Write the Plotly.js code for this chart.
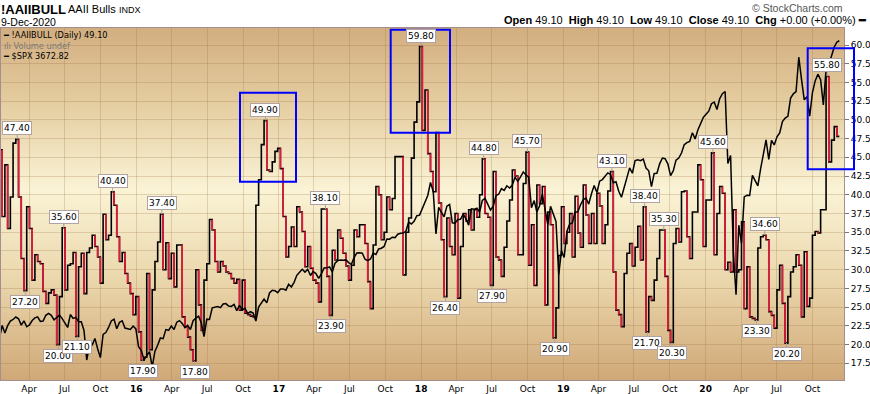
<!DOCTYPE html>
<html>
<head>
<meta charset="utf-8">
<script src="https://cdn.plot.ly/plotly-3.0.1.min.js"></script>
<style>
html,body{margin:0;padding:0;background:#fff;}
#chart{width:870px;height:394px;}
</style>
</head>
<body>
<div id="chart"></div>
<script>
// ---------------- DATA ----------------
// AAII bullish % (weekly survey, first reading Thursday 2015-01-15)
const surveyStart = '2015-01-15';
const lastDate = '2020-12-09';
const bulls2015 = [46.0,37.1,44.0,35.5,39.7,46.9,47.4,39.7,31.5,27.2,
  38.4,35.5,28.6,32.0,31.1,30.8,27.1,25.5,26.9,27.3,
  26.6,20.0,26.4,35.6,27.3,30.6,30.8,32.3,21.1,30.4,
  32.2,26.8,32.3,32.9,34.6,33.1,31.7,28.2,37.4,34.0,
  34.6,40.4,38.6,34.4,31.1,32.3,29.5,28.2,26.8,24.0,
  26.4];
const bulls2016 = [21.7,17.9,18.3,29.5,19.3,27.3,31.1,33.7,37.4,30.0,
  33.6,28.8,32.2,27.7,33.3,33.3,23.7,22.4,21.0,19.3,
  17.8,30.0,25.3,21.9,28.6,30.8,36.7,35.3,31.1,29.7,
  31.1,30.5,29.7,29.5,28.8,28.2,28.7,24.6,28.6,24.2,
  24.0,23.8,23.7,38.6,42.0,46.7,49.9,43.3,43.1,44.4,
  45.8,46.2];
const bulls2017 = [43.5,37.1,31.7,33.1,35.7,33.1,38.4,37.7,35.1,30.4,
  33.1,30.2,28.6,28.2,25.7,38.1,38.1,29.1,23.9,32.6,
  31.3,35.3,34.2,32.2,30.5,28.6,30.6,35.3,34.4,36.0,
  36.0,33.5,28.4,24.8,33.3,41.1,40.0,34.0,35.0,39.7,
  38.0,39.5,45.1,45.1,45.1,29.3,35.0,36.9,44.9,49.7,
  52.4,59.8];
const bulls2018 = [48.6,54.0,45.5,43.1,40.4,48.3,38.9,34.0,26.4,36.9,
  33.1,32.0,37.5,26.2,33.1,37.5,36.5,38.0,35.3,38.0,
  37.0,40.0,44.8,37.5,37.0,27.9,43.1,31.7,31.3,29.1,
  33.0,36.5,39.3,43.3,42.5,32.0,32.0,41.5,45.7,30.6,
  36.0,27.9,41.3,38.8,41.1,25.3,37.7,36.0,20.9,24.9,
  31.9,38.4];
const bulls2019 = [33.5,35.0,37.5,31.7,39.8,34.9,33.0,41.3,37.3,33.5,
  37.5,33.5,40.2,38.5,33.5,36.0,40.5,43.1,29.7,24.6,
  24.0,22.4,29.5,32.2,33.5,30.5,33.0,35.8,31.3,38.4,
  21.7,26.4,25.9,28.6,31.5,35.3,35.3,29.1,21.9,20.3,
  33.5,35.5,33.7,40.4,40.5,34.4,31.5,37.7,37.7,44.0,
  42.0,33.1];
const bulls2020 = [39.3,39.3,45.6,32.0,37.5,41.1,40.2,30.0,31.0,29.7,
  38.0,29.7,30.0,36.4,24.8,30.4,23.7,23.5,23.3,32.9,
  34.4,34.6,34.0,24.4,23.9,22.2,27.3,30.6,25.5,20.2,
  26.4,29.7,30.4,32.0,30.6,23.7,32.4,25.1,26.2,34.6,
  35.1,34.9,38.0,38.0,55.8,44.4,47.3,49.1,47.8];

// S&P 500 ($SPX) on the same weekly dates
const spx2015 = [1992,2063,2021,2062,2088,2097,2111,2101,2065,2089,
  2056,2066,2091,2106,2112,2086,2088,2121,2131,2121,
  2095,2108,2122,2102,2077,2052,2125,2103,2109,2084,
  2084,2035,1868,1951,1952,1990,1932,1882,2013,2023,
  2052,2089,2099,2045,2081,2090,2049,2047,2041,2060,
  2044];
const spx2016 = [1943,1921,1869,1893,1915,1829,1918,1951,1993,1989,
  2040,2036,2060,2041,2082,2091,2075,2051,2064,2040,
  2090,2105,2116,2077,2000,2099,2097,2163,2165,2170,
  2164,2185,2187,2173,2171,2182,2147,2177,2151,2160,
  2132,2141,2133,2088,2167,2187,2213,2191,2247,2262,
  2260,2249];
const spx2017 = [2269,2270,2263,2296,2281,2307,2347,2364,2381,2365,
  2381,2346,2368,2357,2329,2355,2388,2389,2394,2366,
  2415,2430,2434,2432,2434,2419,2409,2447,2473,2475,
  2472,2438,2430,2439,2472,2465,2496,2500,2510,2552,
  2551,2562,2560,2579,2585,2586,2597,2648,2637,2652,
  2684,2687];
const spx2018 = [2724,2767,2798,2872,2822,2581,2731,2703,2678,2738,
  2747,2644,2641,2662,2663,2693,2666,2630,2723,2720,
  2727,2705,2770,2782,2749,2716,2737,2798,2805,2837,
  2827,2853,2840,2857,2901,2878,2904,2931,2914,2902,
  2729,2769,2705,2740,2806,2730,2633,2737,2696,2651,
  2351,2485];
const spx2019 = [2448,2596,2636,2643,2704,2706,2746,2775,2784,2749,
  2808,2854,2815,2879,2888,2905,2926,2917,2870,2876,
  2822,2788,2843,2891,2954,2924,2996,3000,2995,3004,
  2953,2938,2848,2923,2924,2977,3010,3006,2977,2910,
  2938,2998,3010,3038,3085,3097,3104,3153,3118,3168,
  3205,3240];
const spx2020 = [3258,3275,3317,3326,3284,3345,3374,3386,2979,3024,
  2481,2237,2630,2527,2790,2800,2798,2912,2882,2852,
  2949,3030,3112,3002,3110,3084,3130,3152,3216,3236,
  3246,3349,3373,3385,3580,3455,3339,3357,3247,3380,
  3446,3484,3453,3310,3510,3537,3582,3638,3666];
const spxClose = 3672.82;
const aaiiClose = 49.10;

// Labelled extremes: week index and side
const extremeWeeks = [6,9,21,23,28,41,52,59,71,97,119,121,154,163,177,180,193,203,224,236,237,243,246,261,277,280,288,303];
const extremeSide  = ['up','dn','dn','up','dn','up','dn','up','dn','up','up','dn','up','dn','up','dn','up','dn','up','up','dn','up','dn','up','dn','up','dn','up'];

// Axis ticks
const quarterTicks = ['2015-04-01','2015-07-01','2015-10-01',
  '2016-01-01','2016-04-01','2016-07-01','2016-10-01',
  '2017-01-01','2017-04-01','2017-07-01','2017-10-01',
  '2018-01-01','2018-04-01','2018-07-01','2018-10-01',
  '2019-01-01','2019-04-01','2019-07-01','2019-10-01',
  '2020-01-01','2020-04-01','2020-07-01','2020-10-01'];
const quarterLabels = ['Apr','Jul','Oct',
  '<b>16</b>','Apr','Jul','Oct',
  '<b>17</b>','Apr','Jul','Oct',
  '<b>18</b>','Apr','Jul','Oct',
  '<b>19</b>','Apr','Jul','Oct',
  '<b>20</b>','Apr','Jul','Oct'];
const yTicks = [17.5,20,22.5,25,27.5,30,32.5,35,37.5,40,42.5,45,47.5,50,52.5,55,57.5,60];

// ---------------- BUILD ----------------
const bulls = [].concat(bulls2015,bulls2016,bulls2017,bulls2018,bulls2019,bulls2020);
const spx = [].concat(spx2015,spx2016,spx2017,spx2018,spx2019,spx2020);
const DAY = 864e5;
const t0 = Date.parse(surveyStart + 'T00:00:00Z');
function iso(ms){ return new Date(ms).toISOString().slice(0,19).replace('T',' '); }
const weekDates = bulls.map((_,k)=>iso(t0 + k*7*DAY));

// black step line
const bx = weekDates.concat([lastDate]);
const by = bulls.concat([bulls[bulls.length-1]]);
// red down-moves
const rx = [], ry = [];
for (let i=1;i<bulls.length;i++){
  if (bulls[i] < bulls[i-1]) {
    rx.push(weekDates[i], weekDates[i], null);
    ry.push(bulls[i-1], bulls[i], null);
  }
}
const sx = weekDates.concat([lastDate]);
const sy = spx.concat([spxClose]);

const traces = [
  {x:bx, y:by, type:'scatter', mode:'lines', line:{color:'#000', width:1.6, shape:'hv'}, hoverinfo:'skip'},
  {x:rx, y:ry, type:'scatter', mode:'lines', line:{color:'#e8173a', width:1.6}, connectgaps:false, hoverinfo:'skip'},
  {x:sx, y:sy, type:'scatter', mode:'lines', yaxis:'y2', line:{color:'#000', width:1.5}, hoverinfo:'skip'}
];

// layout helpers (pixel -> paper)
const L = 1, R = 844, T = 28, B = 380;
const px = p => (p - L) / (R - L);
const py = p => (B - p) / (B - T);

const annotations = [];
const lblColor = '#b3a2a2';
extremeWeeks.forEach((k,j)=>{
  const up = extremeSide[j] === 'up';
  annotations.push({
    x: iso(t0 + (k*7 + 3.5)*DAY), y: bulls[k], xref:'x', yref:'y',
    text: bulls[k].toFixed(2),
    font:{family:'DejaVu Sans', size:9, color:'#000'},
    bgcolor:'#ffffff', bordercolor:lblColor, borderwidth:1, borderpad:1,
    showarrow:true, arrowhead:0, arrowwidth:1, arrowcolor:lblColor,
    ax:0, ay: up ? -11 : 11, standoff:0
  });
});

const nb = '\u00a0';
annotations.push(
  {xref:'paper',yref:'paper',x:px(-1),y:py(9),xanchor:'left',yanchor:'middle',showarrow:false,
   text:'<b>!AAIIBULL</b>',font:{family:'Liberation Sans, Arial',size:13,color:'#000'}},
  {xref:'paper',yref:'paper',x:px(66),y:py(9),xanchor:'left',yanchor:'middle',showarrow:false,
   text:'AAII Bulls',font:{family:'Liberation Sans, Arial',size:11,color:'#000'}},
  {xref:'paper',yref:'paper',x:px(117),y:py(9.5),xanchor:'left',yanchor:'middle',showarrow:false,
   text:'INDX',font:{family:'Liberation Sans, Arial',size:9,color:'#000'}},
  {xref:'paper',yref:'paper',x:px(-1),y:py(22),xanchor:'left',yanchor:'middle',showarrow:false,
   text:'9-Dec-2020',font:{family:'Liberation Sans, Arial',size:10.5,color:'#000'}},
  {xref:'paper',yref:'paper',x:px(845),y:py(8),xanchor:'right',yanchor:'middle',showarrow:false,
   text:'\u00a9 StockCharts.com',font:{family:'Liberation Sans, Arial',size:10.5,color:'#555'}},
  {xref:'paper',yref:'paper',x:px(868),y:py(20),xanchor:'right',yanchor:'middle',showarrow:false,
   text:'<b>Open</b> '+aaiiClose.toFixed(2)+nb+nb+'<b>High</b> '+aaiiClose.toFixed(2)+nb+nb+'<b>Low</b> '+aaiiClose.toFixed(2)+nb+nb+'<b>Close</b> '+aaiiClose.toFixed(2)+nb+nb+'<b>Chg</b> +0.00 (+0.00%) <b>\u2501</b>',
   font:{family:'Liberation Sans, Arial',size:11,color:'#000'}},
  {xref:'paper',yref:'paper',x:px(2),y:py(29),xanchor:'left',yanchor:'top',align:'left',showarrow:false,
   borderpad:0,
   text:'<b>\u2501</b> !AAIIBULL (Daily) '+aaiiClose.toFixed(2)+
        '<br><span style="color:#7a7a7a">\u0131l\u0131 Volume undef</span>'+
        '<br><b>\u2501</b> $SPX '+spxClose.toFixed(2),
   font:{family:'DejaVu Sans',size:8.2,color:'#000'}}
);

const blue = {color:'#0000ff', width:2};
const shapes = [
  {type:'rect',xref:'paper',yref:'paper',x0:px(240),x1:px(296),y0:py(181.7),y1:py(92.7),line:blue,layer:'above'},
  {type:'rect',xref:'paper',yref:'paper',x0:px(390.7),x1:px(450),y0:py(132.7),y1:py(29.7),line:blue,layer:'above'},
  {type:'rect',xref:'paper',yref:'paper',x0:px(807.7),x1:px(854),y0:py(169.3),y1:py(48.3),line:blue,layer:'above'}
];

const svgBg = "<svg xmlns='http://www.w3.org/2000/svg' width='100' height='100' preserveAspectRatio='none'>" +
  "<defs><linearGradient id='g' x1='0' y1='0' x2='0' y2='1'>" +
  "<stop offset='0' stop-color='#d2ae80'/>" +
  "<stop offset='0.2' stop-color='#e3cb9e'/>" +
  "<stop offset='0.46' stop-color='#faf3d5'/>" +
  "<stop offset='0.72' stop-color='#ead6ab'/>" +
  "<stop offset='1' stop-color='#d0a877'/>" +
  "</linearGradient></defs><rect width='100' height='100' fill='url(#g)'/></svg>";

const gridColor = 'rgba(150,105,55,0.24)';
const frameColor = '#a48f8f';

const layout = {
  width:870, height:394,
  margin:{l:L, r:870-R, t:T, b:394-B, pad:0},
  paper_bgcolor:'#ffffff', plot_bgcolor:'rgba(0,0,0,0)',
  showlegend:false, hovermode:false,
  images:[{source:'data:image/svg+xml;charset=utf-8,'+encodeURIComponent(svgBg),
    xref:'paper', yref:'paper', x:0, y:1, sizex:1, sizey:1, xanchor:'left', yanchor:'top',
    sizing:'stretch', layer:'below'}],
  xaxis:{type:'date', range:['2015-01-19','2020-12-21'], tickmode:'array',
    tickvals:quarterTicks, ticktext:quarterLabels, showgrid:true, gridcolor:gridColor, gridwidth:1,
    showline:true, mirror:true, linecolor:frameColor, linewidth:1, ticks:'', zeroline:false,
    tickfont:{family:'DejaVu Sans', size:9, color:'#000'}, automargin:false, fixedrange:true},
  yaxis:{side:'right', range:[15.27, 62.27], tickmode:'array', tickvals:yTicks,
    ticktext:yTicks.map(v=>v.toFixed(1)), showgrid:true, gridcolor:gridColor, gridwidth:1,
    showline:true, mirror:true, linecolor:frameColor, linewidth:1, zeroline:false,
    ticks:'outside', ticklen:4, tickcolor:'#777', tickwidth:1,
    tickfont:{family:'DejaVu Sans', size:9, color:'#000'}, automargin:false, fixedrange:true},
  yaxis2:{overlaying:'y', side:'left', range:[1755, 3745], visible:false, showgrid:false, zeroline:false, fixedrange:true},
  annotations:annotations,
  shapes:shapes
};

Plotly.newPlot('chart', traces, layout, {staticPlot:true, displayModeBar:false});
</script>
</body>
</html>
